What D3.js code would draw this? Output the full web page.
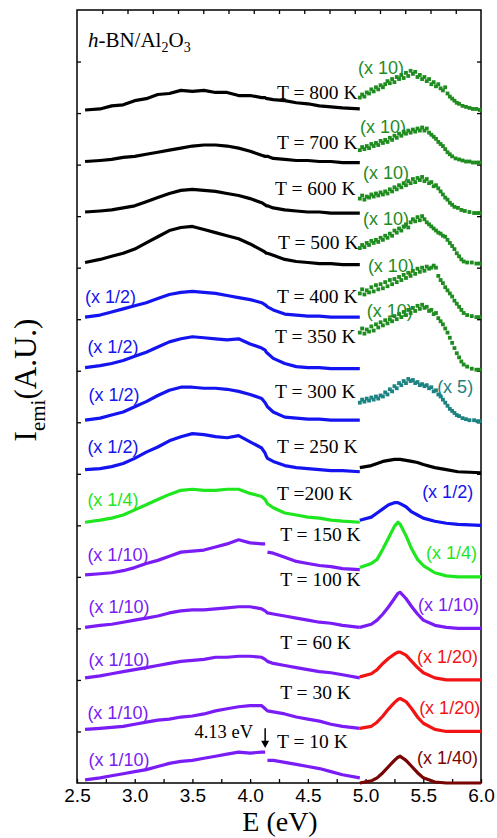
<!DOCTYPE html>
<html>
<head>
<meta charset="utf-8">
<script src="https://cdn.jsdelivr.net/npm/d3@7"></script>
<style>
  body { margin: 0; background: #fff; }
  svg { display: block; }
</style>
</head>
<body>
<div id="chart"></div>
<script>
// energy grids (eV)
const leftEnergy = [2.57, 2.7, 2.8, 2.9, 3.0, 3.1, 3.2, 3.3, 3.4, 3.5, 3.6, 3.7, 3.8, 3.9, 4.0, 4.1, 4.13, 4.14, 4.15, 4.2, 4.3, 4.4, 4.5, 4.6, 4.7, 4.8, 4.95];
const rightEnergy = [4.95, 5.05, 5.1, 5.15, 5.2, 5.25, 5.28, 5.3, 5.35, 5.4, 5.45, 5.5, 5.6, 5.7, 5.8, 6.0];

// left part intensities (A.U. above each trace's baseline)
const left800 = [3, 4, 7, 8, 12, 14, 18, 19, 22, 21, 22, 20, 20, 17, 17, 15, 15, 14, 14, 13, 12, 10, 9, 7, 6, 5, 4];
const left700 = [3, 4, 5, 7, 8, 10, 12, 14, 16, 18, 19, 19, 18, 16, 13, 9, 8, 8, 8, 6, 5, 4, 4, 3, 3, 2, 2];
const left600 = [4, 5, 6, 8, 10, 14, 18, 22, 25, 26, 25, 24, 22, 20, 17, 13, 11, 10, 10, 8, 6, 5, 4, 4, 3, 3, 3];
const left500 = [5, 8, 11, 14, 18, 24, 30, 36, 39, 40, 37, 34, 31, 28, 23, 17, 15, 14, 14, 12, 8, 6, 5, 4, 4, 3, 3];
const left400 = [2, 4, 7, 10, 13, 16, 20, 24, 26, 27, 26, 25, 23, 21, 19, 16, 14, 13, 12, 9, 5, 4, 3, 3, 2, 2, 2];
const left350 = [3, 5, 7, 10, 14, 18, 23, 28, 31, 33, 32, 31, 30, 31, 26, 22, 20, 18, 17, 12, 7, 4, 3, 3, 2, 2, 2];
const left300 = [2, 4, 7, 10, 15, 20, 26, 31, 34, 34, 33, 33, 32, 30, 27, 23, 19, 17, 15, 10, 5, 4, 3, 3, 2, 2, 2];
const left250 = [4, 5, 7, 10, 15, 21, 26, 32, 36, 39, 38, 36, 35, 37, 31, 25, 20, 17, 15, 12, 8, 6, 5, 4, 3, 3, 2];
const left200 = [3, 5, 7, 10, 15, 20, 25, 30, 34, 35, 34, 34, 35, 35, 31, 28, 25, 23, 21, 17, 12, 10, 8, 7, 5, 4, 3];
const left150 = [2, 3, 4, 6, 9, 13, 16, 20, 24, 25, 26, 29, 32, 36, 33, 32, 32, null, 24, 23, 19, 15, 13, 11, 10, 8, 7];
const left100 = [1, 3, 4, 6, 8, 10, 12, 15, 17, 18, 18, 19, 20, 21, 21, 19, 17, 16, 15, 14, 12, 10, 8, 6, 5, 3, 1];
const left60 = [2, 4, 6, 8, 10, 12, 14, 16, 18, 19, 20, 22, 22, 23, 23, 22, 20, 19, 18, 16, 14, 12, 10, 8, 7, 5, 2];
const left30 = [2, 3, 4, 5, 7, 9, 11, 12, 14, 15, 17, 20, 22, 24, 25, 25, 22, 21, 20, 19, 17, 14, 12, 10, 7, 5, 3];
const left10 = [3, 5, 7, 9, 11, 13, 16, 19, 21, 22, 24, 26, 28, 30, 29, 30, 30, null, 22, 22, 20, 18, 16, 14, 11, 8, 5];

// right part, solid traces
const right250 = [6, 8, 10, 12, 13, 14, 14, 14, 13, 12, 11, 9, 6, 4, 2, 1];
const right200 = [5, 8, 12, 16, 20, 22, 22, 21, 18, 13, 10, 7, 4, 2, 1, 0];
const right150 = [9, 13, 17, 27, 38, 49, 53, 51, 40, 27, 17, 11, 4, 1, 0, 0];
const right100 = [1, 4, 8, 14, 21, 29, 34, 35, 29, 21, 14, 8, 3, 1, 0, 0];
const right60 = [3, 6, 10, 16, 21, 25, 27, 27, 24, 18, 12, 7, 2, 0, 0, 0];
const right30 = [3, 5, 9, 15, 22, 28, 31, 32, 29, 22, 14, 8, 2, 0, 0, 0];
const right10 = [0, 2, 5, 10, 16, 22, 25, 26, 22, 16, 10, 5, 1, 0, 0, 0];

// right part, scattered points [E, I]
const dots800 = [[4.95,15],[4.97,18],[4.99,16],[5.01,20],[5.03,19],[5.05,23],[5.07,21],[5.09,25],[5.11,23],[5.13,27],[5.15,25],[5.17,28],[5.19,31],[5.21,29],[5.23,33],[5.25,30],[5.27,35],[5.29,33],[5.31,37],[5.33,34],[5.35,39],[5.37,36],[5.39,41],[5.41,38],[5.43,40],[5.45,35],[5.47,37],[5.49,33],[5.51,35],[5.53,31],[5.55,33],[5.57,28],[5.59,30],[5.61,26],[5.63,28],[5.65,24],[5.67,22],[5.69,25],[5.71,19],[5.73,16],[5.75,14],[5.77,12],[5.79,10],[5.81,9],[5.84,7],[5.87,6],[5.9,5],[5.93,4],[5.96,4],[5.99,3]];
const dots700 = [[4.95,14],[4.97,17],[4.99,15],[5.01,18],[5.03,16],[5.05,20],[5.07,18],[5.09,21],[5.11,19],[5.13,23],[5.15,21],[5.17,24],[5.19,22],[5.21,26],[5.23,24],[5.25,28],[5.27,26],[5.29,30],[5.31,28],[5.33,32],[5.35,30],[5.37,33],[5.39,31],[5.41,34],[5.43,32],[5.45,35],[5.47,33],[5.49,36],[5.51,33],[5.53,35],[5.55,31],[5.57,29],[5.59,27],[5.61,25],[5.63,22],[5.65,20],[5.67,18],[5.69,15],[5.71,12],[5.73,10],[5.75,8],[5.78,6],[5.81,5],[5.84,4],[5.87,3],[5.9,3],[5.93,2],[5.96,2],[5.99,2]];
const dots600 = [[4.95,17],[4.97,20],[4.99,16],[5.01,19],[5.03,18],[5.05,21],[5.07,19],[5.09,22],[5.11,20],[5.13,23],[5.15,21],[5.17,24],[5.19,22],[5.21,26],[5.23,24],[5.25,28],[5.27,26],[5.29,30],[5.31,28],[5.33,32],[5.35,30],[5.37,34],[5.39,32],[5.41,36],[5.43,33],[5.45,37],[5.47,35],[5.49,38],[5.51,34],[5.53,36],[5.55,32],[5.57,33],[5.59,29],[5.61,30],[5.63,27],[5.65,24],[5.67,21],[5.69,18],[5.71,16],[5.73,13],[5.75,11],[5.77,9],[5.8,8],[5.83,6],[5.86,5],[5.9,4],[5.94,3],[5.97,3],[5.99,3]];
const dots500 = [[4.95,19],[4.97,22],[4.99,20],[5.01,24],[5.03,22],[5.05,26],[5.07,24],[5.09,27],[5.11,25],[5.13,29],[5.15,27],[5.17,31],[5.19,29],[5.21,33],[5.23,31],[5.25,36],[5.27,34],[5.29,38],[5.31,36],[5.33,40],[5.35,42],[5.37,39],[5.39,44],[5.41,47],[5.43,45],[5.45,49],[5.47,46],[5.49,50],[5.51,47],[5.53,44],[5.55,42],[5.57,40],[5.59,38],[5.61,36],[5.63,34],[5.65,33],[5.67,31],[5.69,30],[5.71,27],[5.73,24],[5.75,21],[5.77,18],[5.79,14],[5.81,11],[5.83,8],[5.85,6],[5.88,5],[5.92,5],[5.96,4],[5.99,4]];
const dots400 = [[4.95,25],[4.97,29],[4.99,24],[5.01,28],[5.03,26],[5.05,31],[5.07,27],[5.09,33],[5.11,29],[5.13,34],[5.15,30],[5.17,36],[5.19,32],[5.21,38],[5.23,34],[5.25,39],[5.27,36],[5.29,41],[5.31,38],[5.33,43],[5.35,40],[5.37,45],[5.39,42],[5.41,47],[5.43,44],[5.45,49],[5.47,46],[5.49,50],[5.51,47],[5.53,51],[5.55,49],[5.57,50],[5.59,52],[5.61,50],[5.63,42],[5.65,38],[5.67,35],[5.69,31],[5.71,28],[5.73,25],[5.75,22],[5.77,18],[5.79,15],[5.81,12],[5.83,9],[5.85,6],[5.88,4],[5.92,3],[5.96,2],[5.99,2]];
const dots350 = [[4.95,37],[4.97,41],[4.99,36],[5.01,40],[5.03,38],[5.05,43],[5.07,39],[5.09,45],[5.11,42],[5.13,47],[5.15,44],[5.17,49],[5.19,46],[5.21,50],[5.23,48],[5.25,53],[5.27,50],[5.29,55],[5.31,52],[5.33,57],[5.35,54],[5.37,59],[5.39,56],[5.41,61],[5.43,58],[5.45,63],[5.47,60],[5.49,64],[5.51,61],[5.53,62],[5.55,58],[5.57,59],[5.59,55],[5.61,56],[5.63,51],[5.65,48],[5.67,45],[5.69,41],[5.71,37],[5.73,32],[5.75,27],[5.77,22],[5.79,17],[5.81,13],[5.83,9],[5.85,6],[5.88,4],[5.92,2],[5.96,1],[5.99,1]];
const dots300 = [[4.95,19],[4.97,22],[4.99,20],[5.01,23],[5.03,21],[5.05,24],[5.07,22],[5.09,25],[5.11,23],[5.13,26],[5.15,25],[5.17,29],[5.19,27],[5.21,32],[5.23,30],[5.25,35],[5.27,33],[5.29,38],[5.31,36],[5.33,40],[5.35,38],[5.37,42],[5.39,40],[5.41,41],[5.43,38],[5.45,39],[5.47,36],[5.49,37],[5.51,35],[5.53,36],[5.55,33],[5.57,34],[5.59,30],[5.61,31],[5.63,27],[5.65,25],[5.67,22],[5.69,19],[5.71,16],[5.73,13],[5.75,11],[5.77,9],[5.79,7],[5.81,6],[5.84,4],[5.87,3],[5.9,2],[5.94,2],[5.97,1],[5.99,1]];

const tempLabels = ["T = 800 K", "T = 700 K", "T = 600 K", "T = 500 K", "T = 400 K", "T = 350 K", "T = 300 K",
  "T = 250 K", "T =200 K", "T = 150 K", "T = 100 K", "T = 60 K", "T = 30 K", "T = 10 K"];
const baselines = [650, 600, 550, 500, 450, 400, 350, 300, 250, 200, 150, 100, 50, 0];
const leftFactors = [null, null, null, null, "(x 1/2)", "(x 1/2)", "(x 1/2)", "(x 1/2)", "(x 1/4)", "(x 1/10)", "(x 1/10)", "(x 1/10)", "(x 1/10)", "(x 1/10)"];
const rightFactors = ["(x 10)", "(x 10)", "(x 10)", "(x 10)", "(x 10)", "(x 10)", "(x 5)", null, "(x 1/2)", "(x 1/4)", "(x 1/10)", "(x 1/20)", "(x 1/20)", "(x 1/40)"];

const xTickValues = [2.5, 3.0, 3.5, 4.0, 4.5, 5.0, 5.5, 6.0];
const xTickLabels = ["2.5", "3.0", "3.5", "4.0", "4.5", "5.0", "5.5", "6.0"];
const xMinorTicks = [2.75, 3.25, 3.75, 4.25, 4.75, 5.25, 5.75];
const yTickValues = [50, 100, 150, 200, 250, 300, 350, 400, 450, 500, 550, 600, 650, 700];

const C = {
  black: "#000000", blue: "#1414f0", lime: "#1fe61f", purple: "#7a1cf5",
  red: "#f21414", maroon: "#780404", green: "#1f8c1f", teal: "#1c8282"
};

const leftData = [left800, left700, left600, left500, left400, left350, left300, left250, left200, left150, left100, left60, left30, left10];
const leftColors = [C.black, C.black, C.black, C.black, C.blue, C.blue, C.blue, C.blue, C.lime, C.purple, C.purple, C.purple, C.purple, C.purple];
const rightData = [dots800, dots700, dots600, dots500, dots400, dots350, dots300, right250, right200, right150, right100, right60, right30, right10];
const rightColors = [C.green, C.green, C.green, C.green, C.green, C.green, C.teal, C.black, C.blue, C.lime, C.purple, C.red, C.red, C.maroon];

// label anchors, in data units (E, A.U. above baseline)
const tPos = [[4.233, 13.6], [4.233, 15], [4.216, 20.4], [4.242, 18], [4.233, 15.6], [4.216, 26.8], [4.216, 23.4],
  [4.233, 20.1], [4.233, 24.5], [4.26, 34.8], [4.26, 41.1], [4.26, 30], [4.26, 31.5], [4.233, 34]];
const lfPos = [null, null, null, null, [2.57, 15.6], [2.59, 17.1], [2.6, 20.5], [2.59, 20.1], [2.59, 18.7],
  [2.59, 15.3], [2.6, 14.9], [2.6, 13.5], [2.59, 12.1], [2.6, 16.5]];
const rfPos = [[4.935, 37.7], [4.952, 30.5], [4.978, 35.9], [4.978, 41.2], [5.02, 45.6], [5.01, 52], [5.62, 28.3], null,
  [5.49, 26.5], [5.524, 17.3], [5.455, 16.8], [5.446, 16.4], [5.464, 16.9], [5.446, 18.4]];

const W = 497, H = 838;
const serif = "'Liberation Serif', 'Times New Roman', serif";
const sans = "'Liberation Sans', Arial, sans-serif";

const svg = d3.select("#chart").append("svg").attr("width", W).attr("height", H);

const xScale = d3.scaleLinear().domain([2.5, 6.0]).range([77, 481]);
const yScale = d3.scaleLinear().domain([0, 750]).range([783, 10]);
const topScale = d3.scaleLinear().domain([0, 16]).range([77, 481]);

// axes (ticks point inward)
const bottom = svg.append("g").attr("transform", `translate(0,${yScale(0)})`)
  .call(d3.axisBottom(xScale).tickValues(xTickValues).tickSize(-4).tickPadding(6)
    .tickFormat((d, i) => xTickLabels[i]));
const minor = svg.append("g").attr("transform", `translate(0,${yScale(0)})`)
  .call(d3.axisBottom(xScale).tickValues(xMinorTicks).tickSize(-4).tickFormat(""));
const topAx = svg.append("g").attr("transform", `translate(0,${yScale(750)})`)
  .call(d3.axisTop(topScale).tickValues(d3.range(1, 16)).tickSize(-4).tickFormat(""));
const leftAx = svg.append("g").attr("transform", `translate(${xScale(2.5)},0)`)
  .call(d3.axisLeft(yScale).tickValues(yTickValues).tickSize(-4).tickFormat(""));
const rightAx = svg.append("g").attr("transform", `translate(${xScale(6.0)},0)`)
  .call(d3.axisRight(yScale).tickValues(yTickValues).tickSize(-4).tickFormat(""));
[minor, topAx, leftAx, rightAx].forEach(g => g.selectAll("text").remove());
svg.selectAll(".domain").remove();
svg.selectAll(".tick line").attr("stroke", "#000").attr("stroke-width", 1.3);
bottom.selectAll("text").attr("font-family", sans).attr("font-size", 19).attr("fill", "#000");

svg.append("rect")
  .attr("x", xScale(2.5)).attr("y", yScale(750))
  .attr("width", xScale(6.0) - xScale(2.5)).attr("height", yScale(0) - yScale(750))
  .attr("fill", "none").attr("stroke", "#000").attr("stroke-width", 1.5);

const plot = svg.append("g");

tempLabels.forEach((label, i) => {
  const base = baselines[i];
  const line = d3.line()
    .defined(d => d[1] != null)
    .x(d => xScale(d[0]))
    .y(d => yScale(base + d[1]));

  // left half
  plot.append("path")
    .datum(leftEnergy.map((e, j) => [e, leftData[i][j]]))
    .attr("d", line)
    .attr("fill", "none")
    .attr("stroke", leftColors[i])
    .attr("stroke-width", 3.2)
    .attr("stroke-linejoin", "round");

  // temperature label
  plot.append("text")
    .attr("x", xScale(tPos[i][0])).attr("y", yScale(base + tPos[i][1]))
    .attr("font-family", serif).attr("font-size", 19.5).attr("fill", "#000")
    .text(label);

  if (leftFactors[i]) {
    plot.append("text")
      .attr("x", xScale(lfPos[i][0])).attr("y", yScale(base + lfPos[i][1]))
      .attr("font-family", sans).attr("font-size", 18).attr("fill", leftColors[i])
      .text(leftFactors[i]);
  }
  if (rightFactors[i]) {
    plot.append("text")
      .attr("x", xScale(rfPos[i][0])).attr("y", yScale(base + rfPos[i][1]))
      .attr("font-family", sans).attr("font-size", 18).attr("fill", rightColors[i])
      .text(rightFactors[i]);
  }

  // right half: scattered points for the weak high-T spectra, lines otherwise
  if (i < 7) {
    plot.append("g").selectAll("rect")
      .data(rightData[i])
      .join("rect")
      .attr("x", d => xScale(d[0]) - 1.9)
      .attr("y", d => yScale(base + d[1]) - 1.9)
      .attr("width", 3.8).attr("height", 3.8)
      .attr("fill", rightColors[i]);
  } else {
    plot.append("path")
      .datum(rightEnergy.map((e, j) => [e, rightData[i][j]]))
      .attr("d", line)
      .attr("fill", "none")
      .attr("stroke", rightColors[i])
      .attr("stroke-width", 3.2)
      .attr("stroke-linejoin", "round");
  }
});

// 4.13 eV marker
plot.append("text")
  .attr("x", xScale(4.025)).attr("y", yScale(43.7))
  .attr("text-anchor", "end")
  .attr("font-family", serif).attr("font-size", 18.5).attr("fill", "#000")
  .text("4.13 eV");
plot.append("line")
  .attr("x1", xScale(4.13)).attr("x2", xScale(4.13))
  .attr("y1", yScale(53)).attr("y2", yScale(40))
  .attr("stroke", "#000").attr("stroke-width", 1.5);
plot.append("path")
  .attr("d", d3.line()([[xScale(4.13) - 4, yScale(41)], [xScale(4.13) + 4, yScale(41)], [xScale(4.13), yScale(34)]]) + "Z")
  .attr("fill", "#000");

// sample title
const title = svg.append("text")
  .attr("x", xScale(2.595)).attr("y", yScale(714))
  .attr("font-family", serif).attr("font-size", 21).attr("fill", "#000");
title.append("tspan").attr("font-style", "italic").text("h");
title.append("tspan").text("-BN/Al");
title.append("tspan").attr("font-size", 14).attr("dy", 5).text("2");
title.append("tspan").attr("dy", -5).text("O");
title.append("tspan").attr("font-size", 14).attr("dy", 5).text("3");

// axis titles
const yTitle = svg.append("text")
  .attr("transform", "translate(36,380) rotate(-90)")
  .attr("text-anchor", "middle")
  .attr("font-family", serif).attr("font-size", 31).attr("fill", "#000");
yTitle.append("tspan").text("I");
yTitle.append("tspan").attr("font-size", 21).attr("dy", 9).text("emi");
yTitle.append("tspan").attr("dy", -9).text("(A.U.)");

svg.append("text")
  .attr("x", 280).attr("y", 831)
  .attr("text-anchor", "middle")
  .attr("font-family", serif).attr("font-size", 28).attr("fill", "#000")
  .text("E (eV)");
</script>
</body>
</html>
